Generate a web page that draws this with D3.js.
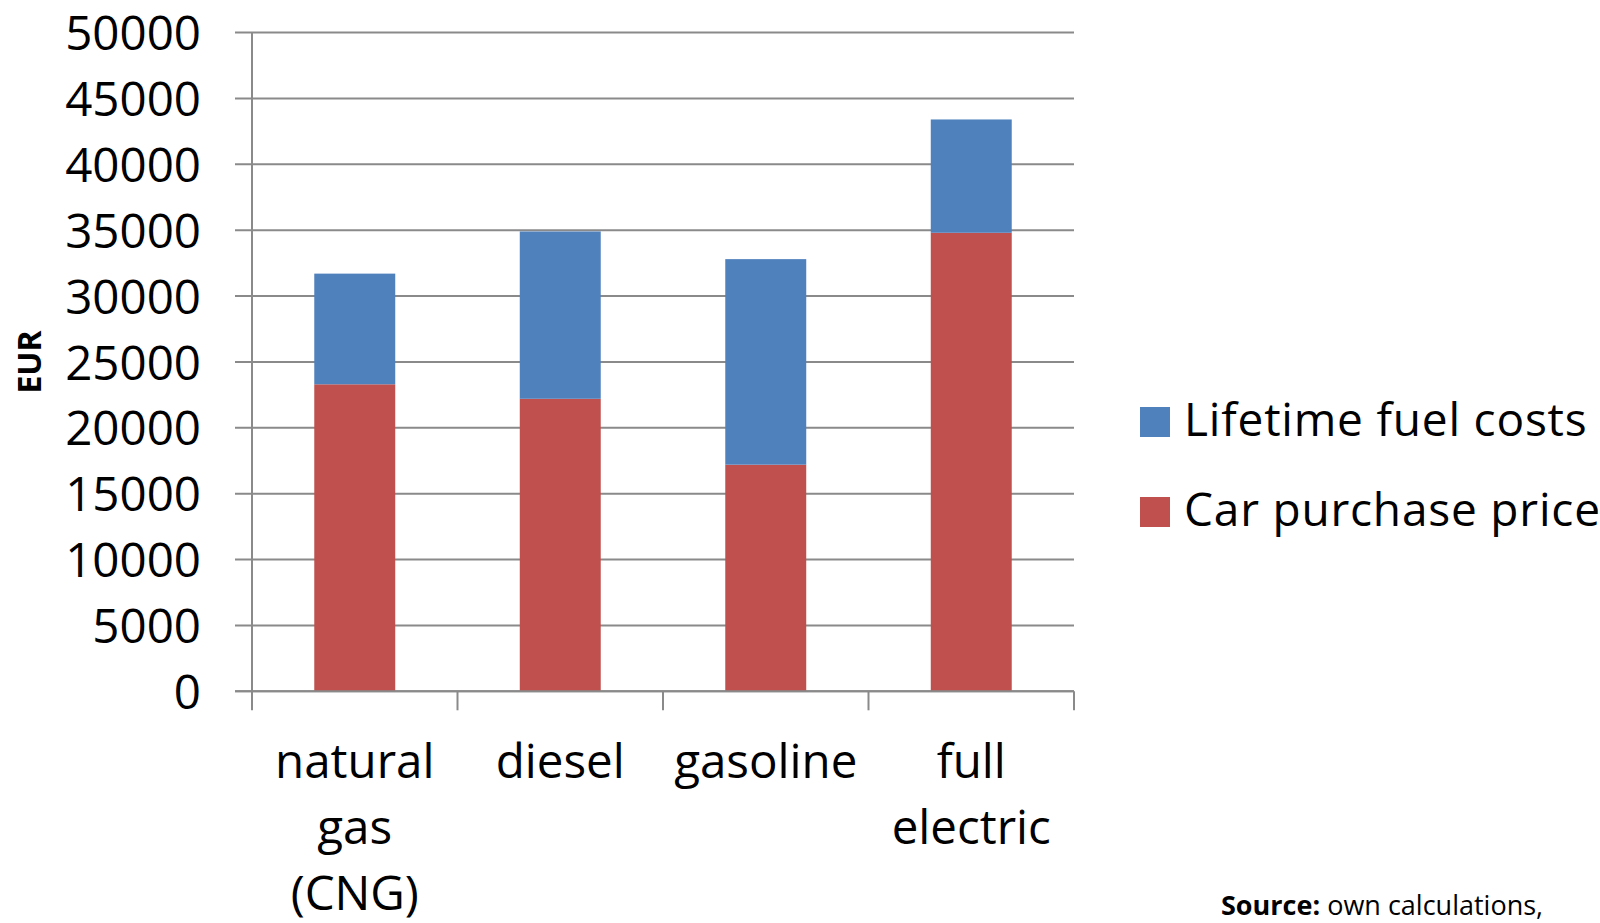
<!DOCTYPE html>
<html>
<head>
<meta charset="utf-8">
<script src="https://cdn.jsdelivr.net/npm/d3@7"></script>
<style>
  html, body { margin: 0; padding: 0; background: #fff; }
  svg { display: block; }
  text { font-family: "Open Sans", "DejaVu Sans", sans-serif; fill: #000; }
</style>
</head>
<body>
<svg id="chart" width="1600" height="923"></svg>
<script>
// ---- data ----
const categories = ["natural gas (CNG)", "diesel", "gasoline", "full electric"];
const categoryLines = [["natural", "gas", "(CNG)"], ["diesel"], ["gasoline"], ["full", "electric"]];
const purchasePrice = [23300, 22200, 17200, 34800];
const fuelCosts = [8400, 12700, 15600, 8600];
const seriesNames = ["Car purchase price", "Lifetime fuel costs"];
const seriesColors = ["#C0504D", "#4F81BD"];
const yTicks = [0, 5000, 10000, 15000, 20000, 25000, 30000, 35000, 40000, 45000, 50000];
const yTitle = "EUR";

// ---- layout ----
const svg = d3.select("#chart");
const plot = { left: 252, right: 1074, top: 32.5, bottom: 691.3 };
const gridColor = "#8a8a8a";

const x = d3.scaleBand()
  .domain(categories)
  .range([plot.left, plot.right])
  .paddingInner(0.606)
  .paddingOuter(0.303);

const y = d3.scaleLinear()
  .domain([0, 50000])
  .range([plot.bottom, plot.top]);

// gridlines + left ticks
svg.append("g")
  .selectAll("line")
  .data(yTicks)
  .join("line")
  .attr("x1", plot.left - 17)
  .attr("x2", plot.right)
  .attr("y1", d => y(d))
  .attr("y2", d => y(d))
  .attr("stroke", gridColor)
  .attr("stroke-width", 2);

// y axis labels
const yAxis = d3.axisLeft(y).tickValues(yTicks).tickSize(0).tickPadding(0).tickFormat(d3.format("d"));
const gy = svg.append("g").attr("transform", `translate(${plot.left - 51},0)`).call(yAxis);
gy.select(".domain").remove();
gy.selectAll("text")
  .attr("font-family", "'Open Sans', sans-serif")
  .attr("font-size", 47.5)
  .attr("fill", "#000")
  .attr("dy", "0.36em");

// bars (stacked)
const rows = categories.map((c, i) => ({ cat: c, purchase: purchasePrice[i], fuel: fuelCosts[i] }));
const stack = d3.stack().keys(["purchase", "fuel"]);
const layers = stack(rows);

svg.append("g")
  .selectAll("g")
  .data(layers)
  .join("g")
  .attr("fill", (d, i) => seriesColors[i])
  .selectAll("rect")
  .data(d => d)
  .join("rect")
  .attr("x", d => x(d.data.cat))
  .attr("width", x.bandwidth())
  .attr("y", d => y(d[1]))
  .attr("height", d => y(d[0]) - y(d[1]));

// axis lines
svg.append("line")
  .attr("x1", plot.left).attr("x2", plot.left)
  .attr("y1", plot.top).attr("y2", plot.bottom + 19)
  .attr("stroke", gridColor).attr("stroke-width", 2);
svg.append("line")
  .attr("x1", plot.left - 17).attr("x2", plot.right)
  .attr("y1", plot.bottom).attr("y2", plot.bottom)
  .attr("stroke", gridColor).attr("stroke-width", 2);

// x category boundary ticks
const boundaries = categories.map(c => x(c) - x.step() * x.paddingOuter()).concat([plot.right]);
svg.append("g")
  .selectAll("line")
  .data(boundaries.slice(1))
  .join("line")
  .attr("x1", d => d).attr("x2", d => d)
  .attr("y1", plot.bottom).attr("y2", plot.bottom + 19)
  .attr("stroke", gridColor).attr("stroke-width", 2);

// category labels
const catG = svg.append("g");
categories.forEach((c, i) => {
  const cx = x(c) + x.bandwidth() / 2;
  const t = catG.append("text")
    .attr("text-anchor", "middle")
    .attr("font-size", 47.5)
    .attr("x", cx)
    .attr("y", 778);
  categoryLines[i].forEach((line, j) => {
    t.append("tspan").attr("x", cx).attr("y", 778 + j * 66).text(line);
  });
});

// y title
svg.append("text")
  .attr("transform", "translate(41,362) rotate(-90)")
  .attr("text-anchor", "middle")
  .attr("font-size", 32)
  .attr("font-weight", "bold")
  .text(yTitle);

// legend (fuel on top, purchase below)
const legendItems = [
  { name: seriesNames[1], color: seriesColors[1] },
  { name: seriesNames[0], color: seriesColors[0] }
];
const lg = svg.append("g");
legendItems.forEach((d, i) => {
  const yy = 407 + i * 90;
  lg.append("rect").attr("x", 1140).attr("y", yy).attr("width", 30).attr("height", 30).attr("fill", d.color);
  lg.append("text").attr("x", 1184).attr("y", yy + 29).attr("font-size", 46)
    .attr("letter-spacing", 0.8).text(d.name);
});

// source note
const src = svg.append("text").attr("x", 1221).attr("y", 915).attr("font-size", 27);
src.append("tspan").attr("font-weight", "bold").text("Source:");
src.append("tspan").text(" own calculations,");
</script>
</body>
</html>
